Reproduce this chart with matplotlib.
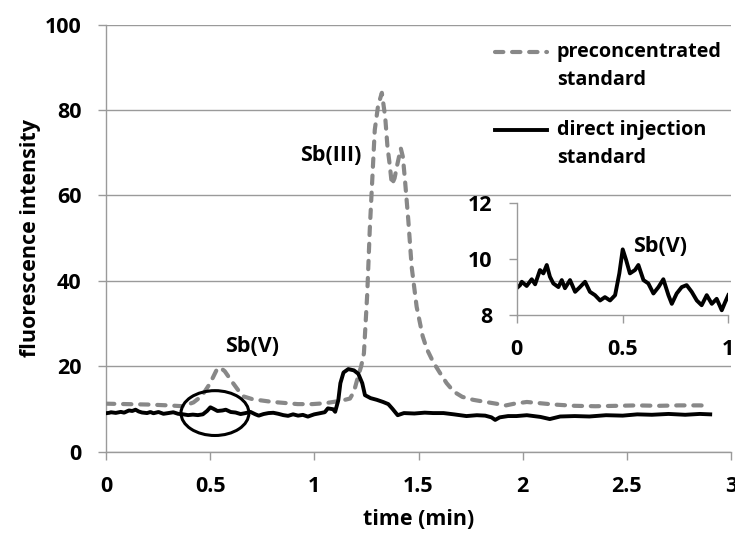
import matplotlib
matplotlib.use("Agg")
import matplotlib.pyplot as plt
from matplotlib.patches import Ellipse
from matplotlib.lines import Line2D

plt.rcParams['font.family'] = ['Open Sans', 'DejaVu Sans']
plt.rcParams['font.weight'] = 'bold'

# ---- data ----
# direct injection standard, 0-1 min (also shown in inset)
direct_t_early = [0.0, 0.016, 0.024, 0.047, 0.071, 0.087, 0.110, 0.126, 0.142, 0.157, 0.173,
                  0.197, 0.213, 0.228, 0.252, 0.276, 0.299, 0.323, 0.346, 0.370, 0.394,
                  0.417, 0.441, 0.465, 0.485, 0.501, 0.517, 0.535, 0.559, 0.575, 0.599,
                  0.622, 0.646, 0.670, 0.693, 0.717, 0.733, 0.756, 0.780, 0.803, 0.827,
                  0.851, 0.874, 0.898, 0.922, 0.945, 0.969, 0.985, 1.0]
direct_v_early = [8.96, 9.07, 9.19, 9.04, 9.28, 9.10, 9.61, 9.49, 9.79, 9.37, 9.13,
                  9.00, 9.25, 8.96, 9.25, 8.83, 9.00, 9.19, 8.83, 8.71, 8.52,
                  8.64, 8.52, 8.71, 9.49, 10.35, 9.97, 9.49, 9.61, 9.79, 9.25,
                  9.13, 8.77, 9.00, 9.28, 8.71, 8.40, 8.77, 9.00, 9.07, 8.83,
                  8.52, 8.35, 8.71, 8.40, 8.58, 8.17, 8.46, 8.71]
# direct injection standard, after 1 min
direct_t_late = [1.02, 1.05, 1.065, 1.09, 1.10, 1.115, 1.125, 1.14, 1.163, 1.19, 1.211,
                 1.23, 1.243, 1.27, 1.30, 1.33, 1.355, 1.375, 1.40, 1.43, 1.48, 1.53,
                 1.57, 1.62, 1.67, 1.73, 1.78, 1.82, 1.85, 1.868, 1.89, 1.93, 1.97,
                 2.02, 2.085, 2.13, 2.18, 2.25, 2.32, 2.40, 2.48, 2.55, 2.62, 2.70,
                 2.78, 2.85, 2.90]
direct_v_late = [8.9, 9.2, 10.1, 9.9, 9.3, 12.0, 16.0, 18.5, 19.3, 19.0, 18.2,
                 16.0, 13.2, 12.5, 12.1, 11.6, 11.1, 10.0, 8.5, 9.0, 8.9, 9.1,
                 9.0, 9.0, 8.7, 8.3, 8.5, 8.4, 8.0, 7.4, 8.0, 8.3, 8.3,
                 8.5, 8.1, 7.6, 8.2, 8.3, 8.2, 8.5, 8.4, 8.7, 8.6, 8.8,
                 8.6, 8.8, 8.7]

# preconcentrated standard
pre_t = [0.0, 0.1, 0.2, 0.3, 0.37, 0.42, 0.46, 0.50, 0.53, 0.547, 0.57, 0.61, 0.64,
         0.66, 0.70, 0.74, 0.80, 0.85, 0.92, 0.99, 1.05, 1.09, 1.13, 1.171, 1.19,
         1.21, 1.225, 1.238, 1.254, 1.266, 1.278, 1.290, 1.306, 1.324, 1.34, 1.351,
         1.363, 1.372, 1.385, 1.396, 1.415, 1.425, 1.435, 1.451, 1.467, 1.491, 1.52,
         1.54, 1.57, 1.603, 1.635, 1.67, 1.71, 1.763, 1.81, 1.86, 1.92, 1.96, 2.02,
         2.085, 2.15, 2.25, 2.35, 2.45, 2.55, 2.65, 2.75, 2.85, 2.90]
pre_v = [11.2, 11.1, 11.0, 10.8, 10.6, 11.5, 13.0, 16.0, 19.0, 19.7, 18.8, 16.0, 14.0,
         12.9, 12.3, 12.0, 11.6, 11.4, 11.1, 11.1, 11.3, 11.6, 11.9, 12.4, 14.0,
         17.6, 20.0, 23.0, 37.0, 51.9, 63.6, 75.3, 81.0, 84.0, 78.4, 71.4,
         66.7, 62.5, 64.0, 66.7, 71.0, 69.0, 63.6, 54.2, 43.3, 33.9, 27.0,
         24.0, 21.0, 18.4, 16.0, 14.0, 12.8, 12.1, 11.7, 11.3, 10.8, 11.2, 11.6,
         11.3, 11.0, 10.7, 10.6, 10.7, 10.8, 10.7, 10.8, 10.8, 10.7]

x_ticks = [0, 0.5, 1, 1.5, 2, 2.5, 3]
x_tick_labels = ['0', '0.5', '1', '1.5', '2', '2.5', '3']
y_ticks = [0, 20, 40, 60, 80, 100]
inset_x_ticks = [0, 0.5, 1]
inset_x_labels = ['0', '0.5', '1']
inset_y_ticks = [8, 10, 12]

GREY = '#888888'
AXC = '#9a9a9a'
FS = 15.5
FS_LEG = 14.2
DASH = (0, (2.0, 2.1))
LW_GREY = 3.0
LW_BLACK = 2.8

fig = plt.figure(figsize=(7.35, 5.33), dpi=100)
ax = fig.add_axes([0.1442, 0.1529, 0.8504, 0.8011])

direct_t = direct_t_early + direct_t_late
direct_v = direct_v_early + direct_v_late

ax.plot(pre_t, pre_v, color=GREY, lw=LW_GREY, linestyle=DASH,
        dash_capstyle='round', zorder=3)
ax.plot(direct_t, direct_v, color='black', lw=LW_BLACK, zorder=4)

ax.set_xlim(0, 3)
ax.set_ylim(0, 100)
ax.set_xticks(x_ticks)
ax.set_xticklabels(x_tick_labels)
ax.set_yticks(y_ticks)
ax.yaxis.grid(True, color=AXC, lw=1.0)
ax.set_axisbelow(True)
for s in ['top', 'right']:
    ax.spines[s].set_visible(False)
for s in ['left', 'bottom']:
    ax.spines[s].set_color(AXC)
    ax.spines[s].set_linewidth(1.0)
ax.tick_params(axis='both', direction='out', length=5.5, width=1.0, color=AXC,
               labelsize=FS, pad=12)
ax.set_xlabel('time (min)', fontsize=FS, fontweight='bold', labelpad=9)
ax.set_ylabel('fluorescence intensity', fontsize=FS, fontweight='bold', labelpad=3)

ax.add_patch(Ellipse((0.523, 9.0), 0.326, 10.5, fill=False, ec='black', lw=2.2, zorder=5))
ax.text(1.08, 69.4, 'Sb(III)', fontsize=FS, fontweight='bold', ha='center', va='center')
ax.text(0.70, 24.7, 'Sb(V)', fontsize=FS, fontweight='bold', ha='center', va='center')

# legend (handle aligned with the first text line, as in the reference)
leg_items = [('preconcentrated', GREY, DASH, LW_GREY),
             ('direct injection', 'black', '-', LW_BLACK)]
leg_y = [0.935, 0.754]
for (lab, c, ls, lw), yy in zip(leg_items, leg_y):
    ax.add_line(Line2D([0.622, 0.705], [yy, yy], transform=ax.transAxes, color=c,
                       lw=lw, linestyle=ls, dash_capstyle='round'))
    ax.text(0.721, yy, lab, transform=ax.transAxes, fontsize=FS_LEG,
            fontweight='bold', ha='left', va='center')
    ax.text(0.721, yy - 0.066, 'standard', transform=ax.transAxes, fontsize=FS_LEG,
            fontweight='bold', ha='left', va='center')

# inset
axi = fig.add_axes([0.703, 0.409, 0.2879, 0.2096])
axi.patch.set_alpha(0)
axi.plot(direct_t_early, direct_v_early, color='black', lw=LW_BLACK)
axi.set_xlim(0, 1)
axi.set_ylim(8, 12)
axi.set_xticks(inset_x_ticks)
axi.set_xticklabels(inset_x_labels)
axi.set_yticks(inset_y_ticks)
for s in ['top', 'right']:
    axi.spines[s].set_visible(False)
for s in ['left', 'bottom']:
    axi.spines[s].set_color(AXC)
    axi.spines[s].set_linewidth(1.0)
axi.tick_params(axis='both', direction='out', length=5.5, width=1.0, color=AXC,
                labelsize=FS, pad=12)
axi.text(0.677, 10.44, 'Sb(V)', fontsize=FS, fontweight='bold', ha='center', va='center')

fig.savefig('out.png', dpi=100)
